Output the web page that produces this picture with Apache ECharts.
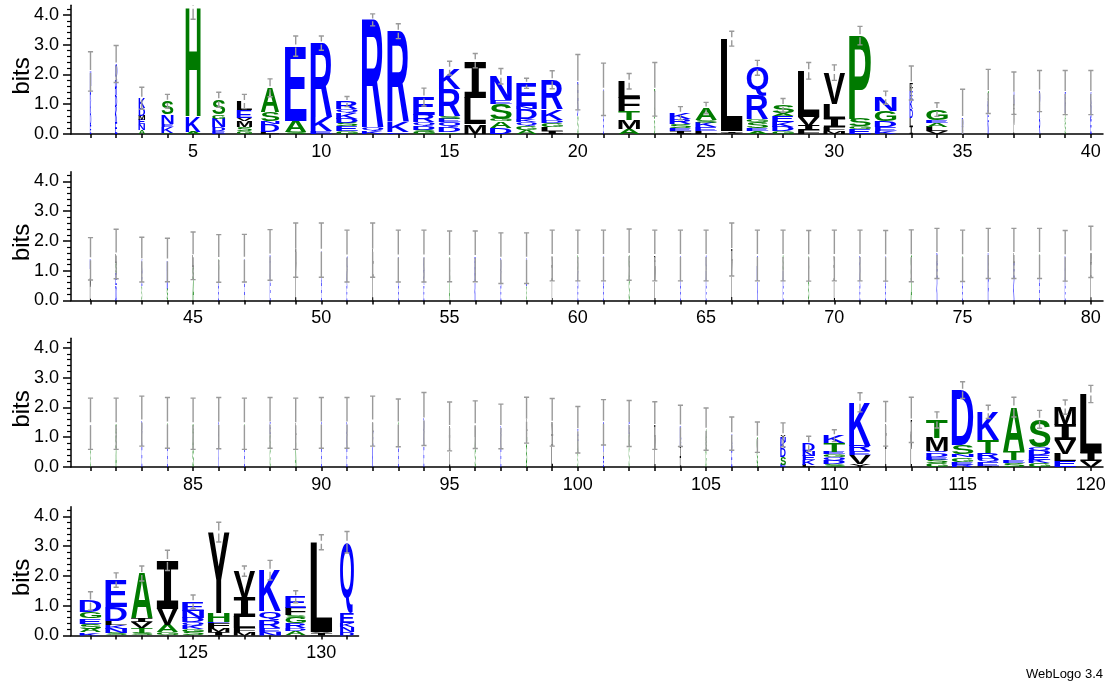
<!DOCTYPE html>
<html>
<head>
<meta charset="utf-8">
<script src="https://cdn.jsdelivr.net/npm/echarts@6/dist/echarts.min.js"></script>
<style>
html,body{margin:0;padding:0;background:#ffffff;}
#chart{width:1111px;height:684px;}
</style>
</head>
<body>
<div id="chart"></div>
<script>
// Each row of the logo: first sequence position
const rowStarts = [1, 41, 81, 121];
// Stacks: letters bottom -> top, each "LetterHeight(bits)"
const stacks1 = [
  "E.3 D.4 K.4 R.5 N.5", "E.4 K.5 D.4 R.5 Q.55", "A.12 N.2 E.15 M.15 D.25 K.33", "A.05 K.2 E.1 N.3 S.45",
  "A.08 K.52 H3.65", "E.1 D.12 N.28 G.15 S.5", "G.1 S.12 M.22 V.1 E.25 L.3", "L.08 D.25 N.1 S.3 A.82",
  "S.08 A.37 E2.5", "E.1 K.45 R2.5", "G.1 E.15 S.12 D.15 K.2 Q.12 R.25", "K.1 Q.1 R3.63",
  "E.06 K.34 R3.05", "G.07 S.08 D.12 Q.12 R.25 E.6", "G.06 D.18 Q.15 E.12 S.1 R.9 K.7", "M.32 L.9 I1.24",
  "D.2 A.22 G.08 S.52 E.12 N.8", "A.12 G.15 Q.12 K.1 D.35 N.1 E.76", "I.1 L.12 G.14 D.1 K.36 R1.0", "S.6 D.5 E.64",
  "E.5 K.5 Q.5", "A.17 M.3 T.3 F.45 L.55", "G.5 S.4 T.6", "I.1 E.1 S.12 R.18 K.2",
  "L.1 E.12 K.15 S.1 A.4", "V.05 I.05 L3.1", "A.1 E.1 S.2 G.1 R.8 Q.92", "G.1 D.15 K.15 E.2 A.1 S.26",
  "F.12 I.16 V.3 L1.54", "M.1 F.12 I.3 L.5 V1.04", "E.15 G.1 S.25 P2.8", "K.1 E.12 D.2 G.35 N.45",
  "I.25 L.3 D.3 K.3 E.3 F.26", "V.1 L.15 A.12 E.1 G.35", "E.25 D.3", "N.4 E.4 K.3 S.33",
  "L.3 M.4 F.3 K.37", "R.5 K.5 D.44", "S.4 A.3 D.3 E.39", "E.5 D.5 K.39"
];
const stacks2 = [
  "L.45 M.3 V.3 K.35", "D.52 E.4 S.34 L.3", "S.5 E.5 K.37", "S.4 N.3 E.3 K.36",
  "A.69 S.45 L.36", "E.5 K.5 S.41", "L.2 E.6 K.62", "E.6 K.5 R.43",
  "L.78 V.5 M.41", "E.6 D.6 K.49", "E.5 K.5 Q.49", "L.78 I.5 V.41",
  "E.5 K.5 N.49", "E.5 R.5 K.49", "A.62 S.5 G.36", "K.62 E.5 R.36",
  "E.5 K.5 D.42", "S.5 E.5 K.42", "L.66 I.5 V.35", "E.5 K.5 S.51",
  "E.5 D.5 K.51", "S.69 A.4 G.45", "L.66 M.5 F.35", "E.5 K.5 R.51",
  "E.5 K.5 Q.51", "L.82 V.5 I.39", "K.66 E.5 D.35", "E.5 K.5 S.51",
  "S.66 T.5 A.34", "L.66 I.5 V.35", "E.5 K.5 R.51", "E.5 D.5 K.5",
  "A.63 S.5 G.37", "K.75 E.5 D.33", "E.5 K.5 S.5", "R.75 E.5 K.33",
  "K.75 E.5 L.33", "E.6 K.5 S.48", "E.5 K.5 D.5", "L.77 I.5 M.36"
];
const stacks3 = [
  "S.59 E.5 K.36", "A.59 S.5 G.36", "E.7 K.5 D.34", "E.63 K.5 S.35",
  "S.59 A.5 G.36", "K.6 E.5 D.37", "E.59 K.5 S.36", "G.6 S.5 E.38",
  "A.59 S.5 L.36", "E.6 K.5 R.38", "E.6 K.5 D.38", "K.69 E.5 L.35",
  "E.6 K.5 S.38", "E.7 K.5 D.41", "L.53 I.5 V.33", "S.62 A.4 M.4",
  "E.6 K.5 D.26", "A.1 S.71 G.4 L.36", "L.7 I.4 V.4", "S.48 A.4 E.37",
  "E.35 L.15 K.5 D.5", "S.7 G.4 E.36", "L.59 M.4 I.4", "L.3 I.38 E.3 K.4",
  "G.57 S.3 A.4", "E.57 D.2 K.35", "A.08 S.5 G.42", "E.08 S.25 D.3 K.2 N.15 Y.1",
  "L.08 K.15 E.15 N.15 D.25", "S.1 D.12 Q.12 G.1 E.08 T.28 K.25", "Y.1 V.3 E.12 R.2 K1.45", "L.6 I.5 V.35",
  "L.6 M.5 I.48", "G.12 S.12 E.1 D.14 Q.05 M.45 T.6", "R.08 E.1 G.15 N.1 S.3 D1.85", "I.05 E.12 Q.1 R.2 T.42 K.96",
  "S.12 E.1 T.3 A1.49", "G.12 K.12 E.15 D.15 Q.12 S.94", "E.2 L.25 V.45 I.5 M.61", "V.2 I.28 L1.97"
];
const stacks4 = [
  "K.1 A.12 S.18 E.18 G.2 D.38", "S.08 N.15 K.12 L.14 D.45 E.92", "S.08 T.18 V.2 I.12 A1.5", "G.1 A.25 V.55 I1.62",
  "S.12 G.1 K.12 Q.1 D.15 N.24 E.3", "I.12 M.14 F.16 E.04 H.3 Y2.71", "M.12 F.12 L.38 I.64 V.9", "N.12 E.14 R.25 Q.3 K1.38",
  "A.14 D.1 R.16 G.2 S.08 F.25 E.37", "I.07 V.06 L3.0", "D.12 N.15 K.14 E.35 Q2.37"
];
// Relative stack widths (fraction of a full column)
const widths1 = [0.06,0.1,0.3,0.55,0.69,0.6,0.7,0.85,1,1, 1,1,1,1,1,1,1,0.95,1,0.04,
                 0.03,1,0.04,1,1,1,1,1,1,1, 1,1,0.15,1,0.06,0.05,0.04,0.05,0.04,0.05];
const widths2 = [0.05,0.06,0.03,0.05,0.06,0.03,0.03,0.03,0.05,0.03, 0.03,0.05,0.03,0.03,0.04,0.05,0.03,0.03,0.04,0.03,
                 0.03,0.04,0.05,0.03,0.03,0.05,0.04,0.03,0.04,0.05, 0.03,0.03,0.05,0.04,0.03,0.04,0.05,0.03,0.03,0.05];
const widths3 = [0.03,0.05,0.03,0.03,0.05,0.03,0.03,0.03,0.05,0.03, 0.03,0.05,0.03,0.03,0.05,0.04,0.03,0.05,0.07,0.03,
                 0.04,0.03,0.05,0.06,0.04,0.04,0.05,0.25,0.57,1, 1,0.05,0.06,1,1,1,1,1,1,1];
const widths4 = [1,1,1,1,1,1,1,1,0.95,1,0.65];
// Error bar half-lengths (bits), centred on stack top
const errors1 = [0.66,0.62,0.37,0.23,0.4,0.25,0.24,0.3,0.34,0.24, 0.17,0.2,0.25,0.3,0.23,0.24,0.26,0.17,0.3,0.93,
                 0.88,0.26,0.9,0.22,0.19,0.25,0.25,0.23,0.28,0.26, 0.31,0.22,0.57,0.23,0.95,0.74,0.71,0.69,0.74,0.74];
const errors2 = [0.71,0.83,0.75,0.73,0.8,0.8,0.8,0.85,0.91,0.91, 0.87,0.91,0.87,0.87,0.85,0.85,0.85,0.85,0.85,0.85,
                 0.85,0.86,0.85,0.85,0.85,0.89,0.85,0.85,0.85,0.85, 0.85,0.85,0.87,0.84,0.86,0.84,0.84,0.84,0.85,0.86];
const errors3 = [0.86,0.86,0.84,0.85,0.86,0.86,0.86,0.85,0.86,0.85, 0.85,0.84,0.8,0.89,0.82,0.8,0.75,0.77,0.8,0.78,
                 0.76,0.77,0.8,0.69,0.71,0.56,0.51,0.4,0.25,0.2, 0.32,0.75,0.76,0.27,0.28,0.22,0.33,0.3,0.24,0.29];
const errors4 = [0.31,0.24,0.25,0.34,0.23,0.33,0.17,0.33,0.2,0.25,0.36];
// Axis ticks / labels
const xLabelValues = [[5,10,15,20,25,30,35,40],[45,50,55,60,65,70,75,80],[85,90,95,100,105,110,115,120],[125,130]];
const yTickValues = [0, 1, 2, 3, 4];
const yMinorTickValues = [0.2,0.4,0.6,0.8,1.2,1.4,1.6,1.8,2.2,2.4,2.6,2.8,3.2,3.4,3.6,3.8,4.2];
const yMax = 4.32;
const yTitle = "bits";
const footer = "WebLogo 3.4";

// ---------------- LAYOUT / STYLE ----------------
const rowStacks = [stacks1, stacks2, stacks3, stacks4];
const rowWidths = [widths1, widths2, widths3, widths4];
const rowErrors = [errors1, errors2, errors3, errors4];
const ROW_BOTTOM = [134, 300.5, 467, 635.5];
const PPB = 29.8;            // pixels per bit
const PPX = 25.65;           // pixels per position
const AXIS_X = 71;           // y-axis line x
const FIRST_X = 90.5;        // x of first position in a row
const RIGHT_X = 1103;        // right end of full rows
const FULL_WIDTH = 0.84;     // full stack width in positions
const FONT = '"Liberation Sans", Arial, Helvetica, sans-serif';
const COLORS = {};
'RKDENQ'.split('').forEach(c => COLORS[c] = '#0000ff');
'SGHTAP'.split('').forEach(c => COLORS[c] = '#007a00');
'YVMCLFIW'.split('').forEach(c => COLORS[c] = '#000000');

const LETTER_FONT = 'bold 200px "Liberation Sans", Arial, sans-serif';
const I_FONT = 'bold 200px "DejaVu Sans Mono", "Liberation Mono", monospace';
const mctx = document.createElement('canvas').getContext('2d');
const metricCache = {};
function metric(ch) {
  if (metricCache[ch]) return metricCache[ch];
  const font = ch === 'I' ? I_FONT : LETTER_FONT;
  mctx.font = font;
  mctx.textAlign = 'left';
  mctx.textBaseline = 'middle';
  const m = mctx.measureText(ch);
  const r = {font: font, L: m.actualBoundingBoxLeft, R: m.actualBoundingBoxRight,
             A: m.actualBoundingBoxAscent, D: m.actualBoundingBoxDescent};
  metricCache[ch] = r;
  return r;
}
function letterEl(ch, x, y, w, h) {
  if (w <= 0.05 || h <= 0.05) return null;
  const m = metric(ch);
  const sx = w / (m.L + m.R), sy = h / (m.A + m.D);
  return {
    type: 'text', silent: true,
    x: x + m.L * sx, y: y + m.A * sy, scaleX: sx, scaleY: sy,
    style: {text: ch, x: 0, y: 0, font: m.font, fill: COLORS[ch] || '#000',
            align: 'left', verticalAlign: 'middle', textAlign: 'left', textVerticalAlign: 'middle'}
  };
}
function parseStack(s) {
  return s.split(' ').map(t => ({ch: t[0], h: parseFloat(t.slice(1))}));
}
function totalOf(s) { return parseStack(s).reduce((a, b) => a + b.h, 0); }

function makeRender(r) {
  return function (params, api) {
    const i = params.dataIndex;
    const pos = api.value(0);
    const total = api.value(1);
    const hw = rowWidths[r][i] * FULL_WIDTH / 2;
    const children = [];
    let base = 0;
    parseStack(rowStacks[r][i]).forEach(it => {
      const tl = api.coord([pos - hw, base + it.h]);
      const br = api.coord([pos + hw, base]);
      const el = letterEl(it.ch, tl[0], tl[1], br[0] - tl[0], br[1] - tl[1]);
      if (el) children.push(el);
      base += it.h;
    });
    const e = rowErrors[r][i];
    const gap = 0.05, cap = 0.1;
    const lineStyle = {stroke: '#9a9a9a', lineWidth: 1.4};
    const seg = (x1, y1, x2, y2) => {
      const a = api.coord([x1, y1]), b = api.coord([x2, y2]);
      children.push({type: 'line', silent: true, shape: {x1: a[0], y1: a[1], x2: b[0], y2: b[1]}, style: lineStyle});
    };
    seg(pos, total + gap, pos, total + e);
    seg(pos, total - e, pos, total - gap);
    seg(pos - cap, total + e, pos + cap, total + e);
    seg(pos - cap, total - e, pos + cap, total - e);
    return {type: 'group', children: children};
  };
}

const grids = [], xAxes = [], yAxes = [], series = [], graphics = [];
rowStacks.forEach((stacks, r) => {
  const start = rowStarts[r];
  const n = stacks.length;
  const xmin = start - (FIRST_X - AXIS_X) / PPX;
  const xmax = r < 3 ? start + 39 + (RIGHT_X - (FIRST_X + 39 * PPX)) / PPX : start + n - 1 + 0.45;
  const height = yMax * PPB;
  grids.push({left: AXIS_X, top: ROW_BOTTOM[r] - height, width: (xmax - xmin) * PPX, height: height});
  const positions = stacks.map((s, i) => start + i);
  xAxes.push({
    type: 'value', gridIndex: r, min: xmin, max: xmax,
    axisLine: {show: true, onZero: false, lineStyle: {color: '#000', width: 1.5}},
    axisTick: {show: true, customValues: positions, length: 4, lineStyle: {color: '#000', width: 1.5}},
    axisLabel: {show: true, customValues: xLabelValues[r], margin: 9, fontSize: 18, fontFamily: FONT, color: '#000'},
    splitLine: {show: false}
  });
  yAxes.push({
    type: 'value', gridIndex: r, min: 0, max: yMax, position: 'left',
    axisLine: {show: true, lineStyle: {color: '#000', width: 1.5}},
    axisTick: {show: true, customValues: yTickValues, length: 8, lineStyle: {color: '#000', width: 1.5}},
    axisLabel: {show: true, customValues: yTickValues, margin: 12, fontSize: 18, fontFamily: FONT, color: '#000',
                formatter: v => Number(v).toFixed(1)},
    splitLine: {show: false}
  });
  yAxes.push({
    type: 'value', gridIndex: r, min: 0, max: yMax, position: 'left', offset: 0,
    axisLine: {show: false},
    axisTick: {show: true, customValues: yMinorTickValues, length: 4, lineStyle: {color: '#000', width: 1.2}},
    axisLabel: {show: false},
    splitLine: {show: false}
  });
  series.push({
    type: 'custom', xAxisIndex: r, yAxisIndex: 2 * r, clip: true, silent: true,
    renderItem: makeRender(r),
    data: positions.map((p, i) => [p, totalOf(stacks[i])])
  });
  graphics.push({
    type: 'text', x: 22, y: ROW_BOTTOM[r] - 1.95 * PPB, rotation: Math.PI / 2, silent: true,
    style: {text: yTitle, font: '24px ' + FONT, fill: '#000', align: 'center', verticalAlign: 'middle',
            textAlign: 'center', textVerticalAlign: 'middle'}
  });
});
graphics.push({
  type: 'text', x: 1103, y: 674, silent: true,
  style: {text: footer, font: '13px ' + FONT, fill: '#000', align: 'right', verticalAlign: 'middle',
          textAlign: 'right', textVerticalAlign: 'middle'}
});

const chart = echarts.init(document.getElementById('chart'), null, {renderer: 'canvas'});
chart.setOption({
  animation: false,
  backgroundColor: '#ffffff',
  grid: grids,
  xAxis: xAxes,
  yAxis: yAxes,
  series: series,
  graphic: {elements: graphics}
});
</script>
</body>
</html>
